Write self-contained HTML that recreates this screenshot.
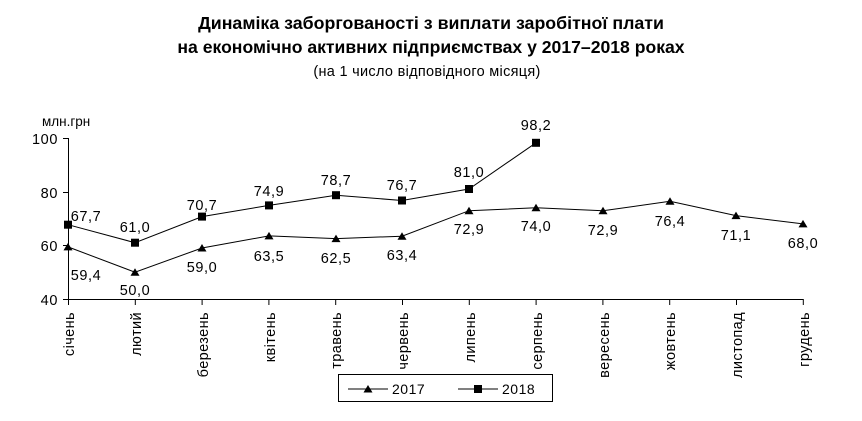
<!DOCTYPE html>
<html><head><meta charset="utf-8"><style>body{margin:0;background:#fff}svg{display:block}</style></head>
<body>
<svg width="862" height="421" xmlns="http://www.w3.org/2000/svg" font-family="Liberation Sans, DejaVu Sans, sans-serif">
<text x="431" y="29" text-anchor="middle" font-size="17.8" font-weight="bold">Динаміка заборгованості з виплати заробітної плати</text>
<text x="431" y="53" text-anchor="middle" font-size="17.6" font-weight="bold">на економічно активних підприємствах у 2017–2018 роках</text>
<text x="427" y="76" text-anchor="middle" font-size="14.5" letter-spacing="0.3">(на 1 число відповідного місяця)</text>
<text x="42" y="126" font-size="13.5">млн.грн</text>
<g stroke="#000" stroke-width="1" fill="none">
<line x1="68.5" y1="138" x2="68.5" y2="299"/>
<line x1="68" y1="299.5" x2="803" y2="299.5"/>
<line x1="63" y1="138.5" x2="68" y2="138.5"/>
<line x1="63" y1="192.5" x2="68" y2="192.5"/>
<line x1="63" y1="245.5" x2="68" y2="245.5"/>
<line x1="63" y1="299.5" x2="68" y2="299.5"/>
</g>
<g font-size="14.5" text-anchor="end" letter-spacing="0.6">
<text x="58" y="144">100</text><text x="58" y="198">80</text><text x="58" y="251">60</text><text x="58" y="305">40</text>
</g>
<g stroke="#000">
<line x1="68.5" y1="299" x2="68.5" y2="305"/><line x1="135.3" y1="299" x2="135.3" y2="305"/><line x1="202.1" y1="299" x2="202.1" y2="305"/><line x1="268.9" y1="299" x2="268.9" y2="305"/><line x1="335.7" y1="299" x2="335.7" y2="305"/><line x1="402.5" y1="299" x2="402.5" y2="305"/><line x1="469.3" y1="299" x2="469.3" y2="305"/><line x1="536.1" y1="299" x2="536.1" y2="305"/><line x1="602.9" y1="299" x2="602.9" y2="305"/><line x1="669.7" y1="299" x2="669.7" y2="305"/><line x1="736.5" y1="299" x2="736.5" y2="305"/><line x1="803.3" y1="299" x2="803.3" y2="305"/>
</g>
<g font-size="14.5" text-anchor="end" letter-spacing="0.4">
<text transform="translate(74,312) rotate(-90)">січень</text>
<text transform="translate(141,312) rotate(-90)">лютий</text>
<text transform="translate(208,312) rotate(-90)">березень</text>
<text transform="translate(275,312) rotate(-90)">квітень</text>
<text transform="translate(341,312) rotate(-90)">травень</text>
<text transform="translate(408,312) rotate(-90)">червень</text>
<text transform="translate(475,312) rotate(-90)">липень</text>
<text transform="translate(542,312) rotate(-90)">серпень</text>
<text transform="translate(609,312) rotate(-90)">вересень</text>
<text transform="translate(675,312) rotate(-90)">жовтень</text>
<text transform="translate(742,312) rotate(-90)">листопад</text>
<text transform="translate(809,312) rotate(-90)">грудень</text>
</g>
<polyline fill="none" stroke="#000" points="68,246.9 135,272.2 202,248 269,235.9 336,238.6 402,236.2 469,210.7 536,207.8 603,210.7 670,201.3 736,215.6 803,223.9"/>
<g fill="#000">
<polygon points="68,242.9 72.5,250.4 63.5,250.4"/><polygon points="135,268.2 139.5,275.7 130.5,275.7"/><polygon points="202,244 206.5,251.5 197.5,251.5"/><polygon points="269,231.9 273.5,239.4 264.5,239.4"/><polygon points="336,234.6 340.5,242.1 331.5,242.1"/><polygon points="402,232.2 406.5,239.7 397.5,239.7"/><polygon points="469,206.7 473.5,214.2 464.5,214.2"/><polygon points="536,203.8 540.5,211.3 531.5,211.3"/><polygon points="603,206.7 607.5,214.2 598.5,214.2"/><polygon points="670,197.3 674.5,204.8 665.5,204.8"/><polygon points="736,211.6 740.5,219.1 731.5,219.1"/><polygon points="803,219.9 807.5,227.4 798.5,227.4"/>
</g>
<polyline fill="none" stroke="#000" points="68,224.7 135,242.7 202,216.6 269,205.4 336,195.2 402,200.5 469,189 536,142.8"/>
<g fill="#000">
<rect x="64" y="220.7" width="8" height="8"/><rect x="131" y="238.7" width="8" height="8"/><rect x="198" y="212.6" width="8" height="8"/><rect x="265" y="201.4" width="8" height="8"/><rect x="332" y="191.2" width="8" height="8"/><rect x="398" y="196.5" width="8" height="8"/><rect x="465" y="185" width="8" height="8"/><rect x="532" y="138.8" width="8" height="8"/>
</g>
<g font-size="14.5" text-anchor="middle" letter-spacing="0.6">
<text x="86" y="221">67,7</text><text x="135" y="232">61,0</text><text x="202" y="210">70,7</text><text x="269" y="196">74,9</text><text x="336" y="185">78,7</text><text x="402" y="190">76,7</text><text x="469" y="177">81,0</text><text x="536" y="130">98,2</text>
<text x="86" y="280">59,4</text><text x="135" y="295">50,0</text><text x="202" y="272">59,0</text><text x="269" y="261">63,5</text><text x="336" y="263">62,5</text><text x="402" y="260">63,4</text><text x="469" y="234">72,9</text><text x="536" y="231">74,0</text><text x="603" y="235">72,9</text><text x="670" y="226">76,4</text><text x="736" y="240">71,1</text><text x="803" y="248">68,0</text>
</g>
<rect x="338.5" y="374.5" width="214" height="27" fill="none" stroke="#000"/>
<line x1="348" y1="389" x2="388" y2="389" stroke="#000"/><polygon points="368,385 372.5,392.5 363.5,392.5"/>
<text x="392" y="394" font-size="14" letter-spacing="0.5">2017</text>
<line x1="458" y1="389" x2="498" y2="389" stroke="#000"/><rect x="474" y="385" width="8" height="8"/>
<text x="502" y="394" font-size="14" letter-spacing="0.5">2018</text>
</svg>
</body></html>
